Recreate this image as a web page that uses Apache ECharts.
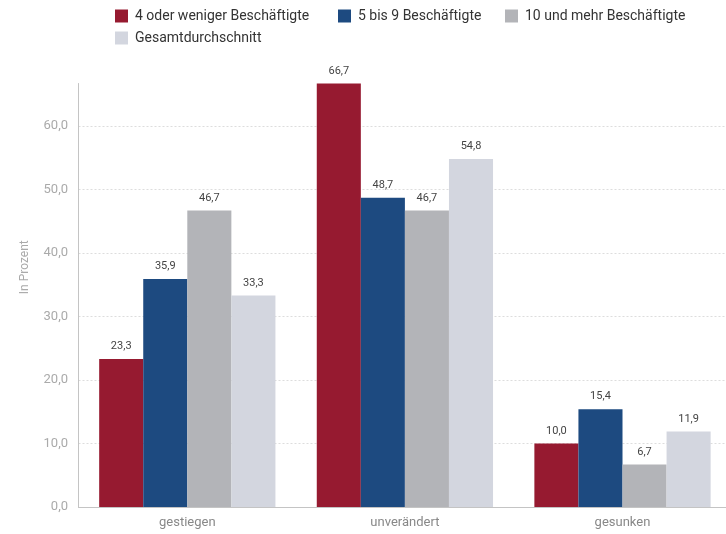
<!DOCTYPE html>
<html>
<head>
<meta charset="utf-8">
<script src="https://cdn.jsdelivr.net/npm/echarts@6/dist/echarts.min.js"></script>
<style>
html,body{margin:0;padding:0;background:#fff;overflow:hidden;}
#chart{width:740px;height:534px;}
</style>
</head>
<body>
<div id="chart"></div>
<script>
const categories = ['gestiegen', 'unverändert', 'gesunken'];
const seriesNames = ['4 oder weniger Beschäftigte', '5 bis 9 Beschäftigte', '10 und mehr Beschäftigte', 'Gesamtdurchschnitt'];
const smallFirms = [23.3, 66.7, 10.0];
const midFirms = [35.9, 48.7, 15.4];
const largeFirms = [46.7, 46.7, 6.7];
const overall = [33.3, 54.8, 11.9];
const colors = ['#961a30', '#1d4a80', '#b3b4b8', '#d3d6df'];

const fmt = v => Number(v).toFixed(1).replace('.', ',');
const font = 'Roboto, "DejaVu Sans", sans-serif';

// one legend block per entry so the entries sit in fixed slots
const legendSlots = [[115, 9], [338, 9], [505, 9], [115, 31]];
const legends = seriesNames.map((name, i) => ({
  left: legendSlots[i][0], top: legendSlots[i][1],
  padding: 0,
  itemWidth: 13, itemHeight: 13, itemGap: 0,
  icon: 'rect',
  textStyle: { fontSize: 14, color: '#333', fontFamily: font, padding: [0, 0, 0, 2] },
  data: [name]
}));

const values = [smallFirms, midFirms, largeFirms, overall];
const chart = echarts.init(document.getElementById('chart'));
chart.setOption({
  animation: false,
  textStyle: { fontFamily: font },
  legend: legends,
  grid: { left: 78.5, top: 83.5, width: 652.8, bottom: 27 },
  xAxis: {
    type: 'category',
    data: categories,
    axisLine: { lineStyle: { color: '#c4c4c4' } },
    axisTick: { show: false },
    axisLabel: { color: '#888', fontSize: 13, margin: 9, fontFamily: font }
  },
  yAxis: {
    type: 'value',
    min: 0, max: 66.7, interval: 10,
    name: 'In Prozent',
    nameLocation: 'middle',
    nameGap: 48,
    nameTextStyle: { color: '#aaa', fontSize: 12, fontFamily: font, padding: [0, 0, 0, 56] },
    axisLine: { show: true, lineStyle: { color: '#c4c4c4' } },
    axisTick: { show: false },
    axisLabel: { color: '#aaa', fontSize: 13, margin: 10.5, showMaxLabel: false, formatter: v => fmt(v), fontFamily: font },
    splitLine: { show: true, showMaxLine: false, lineStyle: { color: '#ddd', type: [2, 2] } }
  },
  series: seriesNames.map((name, i) => ({
    name,
    type: 'bar',
    data: values[i],
    barGap: '0%',
    barCategoryGap: '19%',
    itemStyle: { color: colors[i] },
    label: {
      show: true, position: 'top', distance: 7,
      color: '#444', fontSize: 11, fontFamily: font,
      formatter: p => fmt(p.value)
    }
  }))
});
</script>
</body>
</html>
